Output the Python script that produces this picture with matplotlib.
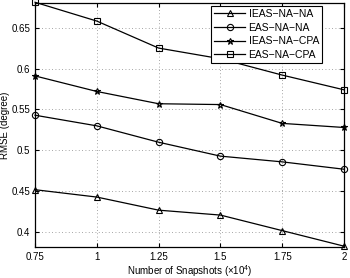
import matplotlib

matplotlib.use("Agg")
import matplotlib.pyplot as plt

plt.rcParams["font.family"] = ["Liberation Sans", "DejaVu Sans"]
plt.rcParams["mathtext.fontset"] = "custom"
plt.rcParams["mathtext.rm"] = "Liberation Sans"

snapshots = [0.75, 1, 1.25, 1.5, 1.75, 2]
ieas_na_na = [0.452, 0.443, 0.427, 0.421, 0.402, 0.383]
eas_na_na = [0.543, 0.530, 0.510, 0.493, 0.486, 0.477]
ieas_na_cpa = [0.591, 0.572, 0.557, 0.556, 0.533, 0.528]
eas_na_cpa = [0.681, 0.658, 0.625, 0.612, 0.592, 0.574]

fig = plt.figure(figsize=(3.5, 2.78), dpi=100)
ax = fig.add_axes([0.1, 0.1115, 0.883, 0.8775])

style = dict(color="black", linewidth=0.9, markersize=4.5,
             markerfacecolor="none", markeredgewidth=0.8, clip_on=False)
ax.plot(snapshots, ieas_na_na, marker="^", label="IEAS\u2212NA\u2212NA", **style)
ax.plot(snapshots, eas_na_na, marker="o", label="EAS\u2212NA\u2212NA", **style)
ax.plot(snapshots, ieas_na_cpa, marker="*", label="IEAS\u2212NA\u2212CPA", **style)
ax.plot(snapshots, eas_na_cpa, marker="s", label="EAS\u2212NA\u2212CPA", **style)

ax.set_xlim(0.75, 2)
ax.set_ylim(0.382, 0.68)
ax.set_xticks(snapshots)
ax.set_xticklabels(["0.75", "1", "1.25", "1.5", "1.75", "2"])
ax.set_yticks([0.4, 0.45, 0.5, 0.55, 0.6, 0.65])
ax.set_yticklabels(["0.4", "0.45", "0.5", "0.55", "0.6", "0.65"])
ax.tick_params(direction="in", labelsize=7, length=3, top=True, right=True)
ax.grid(True, linestyle=(0, (1, 3)), linewidth=0.6, color="#888888")
for s in ax.spines.values():
    s.set_linewidth(0.9)

ax.set_xlabel("Number of Snapshots (\u00d710$^{4}$)", fontsize=7, labelpad=1)
ax.set_ylabel("RMSE (degree)", fontsize=7, labelpad=1)

leg = ax.legend(loc="upper right", bbox_to_anchor=(0.929, 0.988),
                fontsize=7.5, frameon=True, fancybox=False,
                framealpha=1, edgecolor="black", borderpad=0.3,
                labelspacing=0.35, handlelength=3.0, handletextpad=0.3,
                borderaxespad=0)
leg.get_frame().set_linewidth(0.8)
leg.set_zorder(5)

fig.savefig("out.png", dpi=100)
